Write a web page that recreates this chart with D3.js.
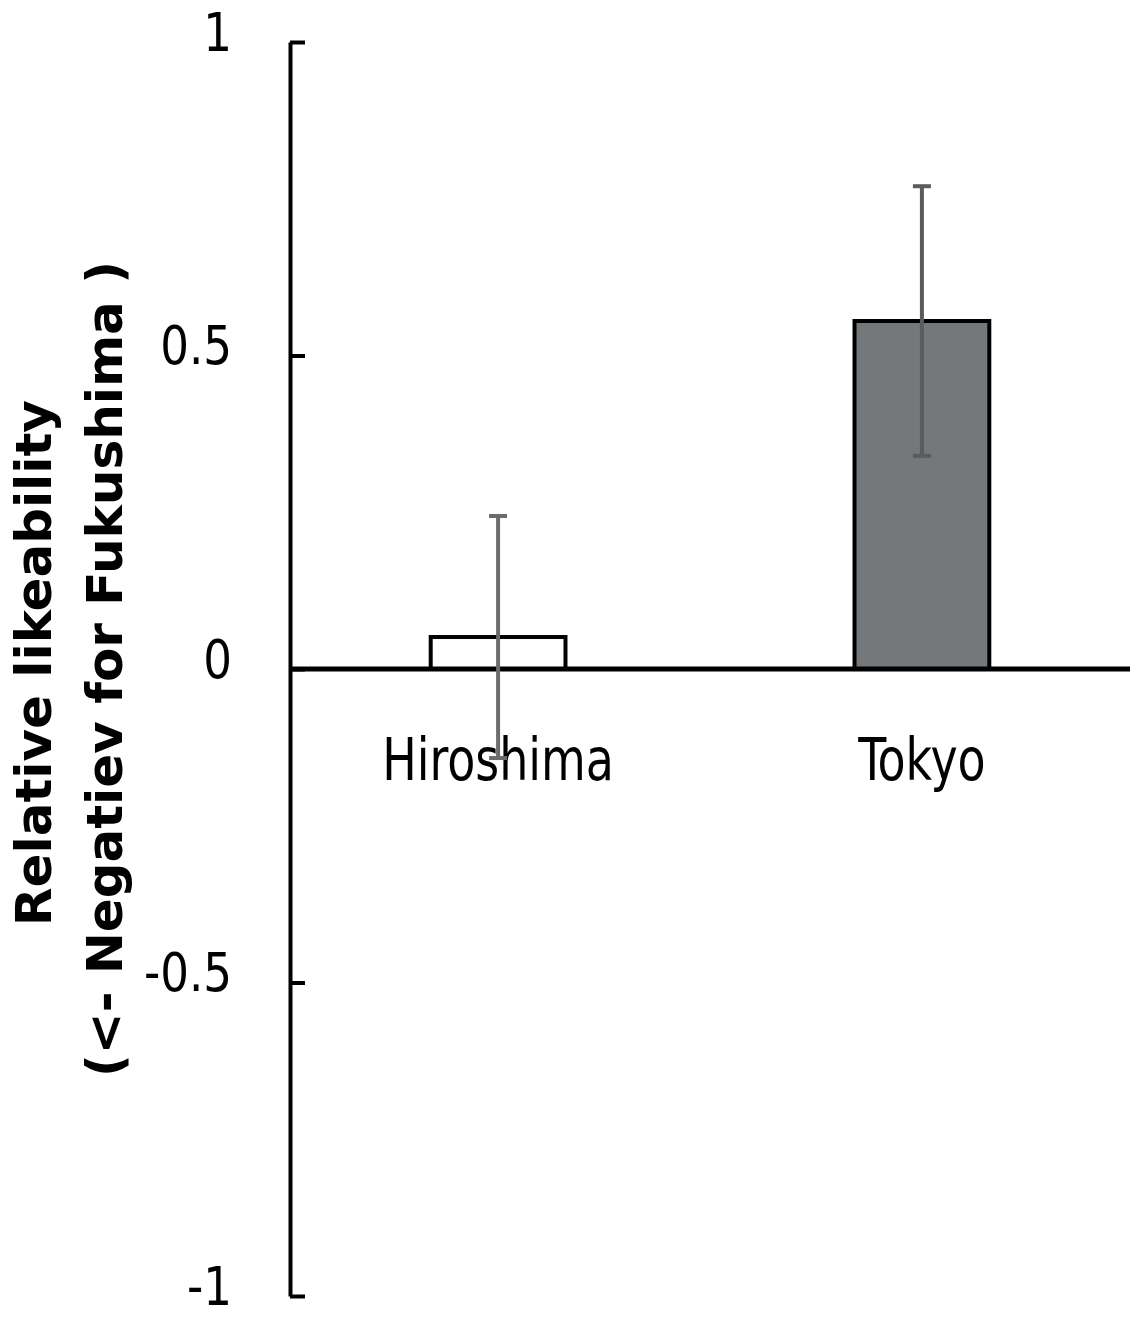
<!DOCTYPE html>
<html lang="en">
	<head>
		<meta charset="utf-8">
		<title>Relative likeability</title>
		<script type="text/javascript" src="https://d3js.org/d3.v7.min.js"></script>
		<style type="text/css">
			body { margin: 0; background: white; }
			.tick text, .cat {
				font-family: "DejaVu Sans Condensed", "Liberation Sans Narrow", sans-serif;
				fill: black;
			}
			.tick text { font-size: 54px; }
			.cat { font-size: 58px; }
			.ytitle {
				font-family: "DejaVu Sans", Verdana, sans-serif;
				font-weight: bold;
				font-size: 50px;
				fill: black;
			}
		</style>
	</head>
	<body>
		<script type="text/javascript">

			// data
			var categories = ["Hiroshima", "Tokyo"];
			var means = [0.051, 0.555];
			var errors = [0.193, 0.215];
			var tickValues = [-1, -0.5, 0, 0.5, 1];
			var tickLabels = ["-1", "-0.5", "0", "0.5", "1"];
			var barFills = ["#ffffff", "#75787a"];

			var w = 1130;
			var h = 1317;
			var squeeze = 0.88;      // narrow the condensed font a bit more
			var tickSqueeze = 0.93;

			var svg = d3.select("body")
						.append("svg")
						.attr("width", w)
						.attr("height", h);

			var y = d3.scaleLinear()
						.domain([-1, 1])
						.range([1296, 42]);

			var x = d3.scaleBand()
						.domain(categories)
						.range([290, 1130])
						.paddingInner(0.682)
						.paddingOuter(0.332);

			//Y axis, ticks pointing inward
			var yAxis = d3.axisLeft(y)
						.tickValues(tickValues)
						.tickFormat(function(d, i){ return tickLabels[i]; })
						.tickSizeInner(-15)
						.tickSizeOuter(0);

			var ag = svg.append("g")
						.attr("transform", "translate(290,0)")
						.call(yAxis);
			ag.attr("font-family", null).attr("font-size", null);
			ag.select(".domain").attr("stroke", "black").attr("stroke-width", 4);
			ag.selectAll(".tick line").attr("stroke", "black").attr("stroke-width", 4);
			ag.selectAll(".tick text")
				.attr("x", -58 / tickSqueeze)
				.attr("dy", "0.15em")
				.attr("transform", "scale(" + tickSqueeze + ",1)");

			//Category labels
			svg.selectAll("text.cat")
				.data(categories)
				.enter()
				.append("text")
				.attr("class", "cat")
				.attr("transform", function(d){
					return "translate(" + (x(d) + x.bandwidth() / 2) + "," + (y(0) + 111) + ") scale(" + squeeze + ",1)";
				})
				.attr("text-anchor", "middle")
				.text(function(d){ return d; });

			//Bars
			svg.selectAll("rect.bar")
				.data(means)
				.enter()
				.append("rect")
				.attr("class", "bar")
				.attr("x", function(d, i){ return x(categories[i]); })
				.attr("width", x.bandwidth())
				.attr("y", function(d){ return y(Math.max(0, d)); })
				.attr("height", function(d){ return Math.abs(y(d) - y(0)); })
				.attr("fill", function(d, i){ return barFills[i]; })
				.attr("stroke", "black")
				.attr("stroke-width", 4);

			//Zero line
			svg.append("line")
				.attr("x1", 290)
				.attr("x2", w)
				.attr("y1", y(0))
				.attr("y2", y(0))
				.attr("stroke", "black")
				.attr("stroke-width", 5);

			//Error bars
			var eb = svg.selectAll("g.err")
						.data(means)
						.enter()
						.append("g")
						.attr("class", "err")
						.attr("stroke", function(d, i){ return i == 0 ? "#6a6d6f" : "#585c5e"; })
						.attr("stroke-width", 4);

			eb.append("line")
				.attr("x1", function(d, i){ return x(categories[i]) + x.bandwidth() / 2; })
				.attr("x2", function(d, i){ return x(categories[i]) + x.bandwidth() / 2; })
				.attr("y1", function(d, i){ return y(d + errors[i]); })
				.attr("y2", function(d, i){ return y(d - errors[i]); });

			[1, -1].forEach(function(s){
				eb.append("line")
					.attr("x1", function(d, i){ return x(categories[i]) + x.bandwidth() / 2 - 9; })
					.attr("x2", function(d, i){ return x(categories[i]) + x.bandwidth() / 2 + 9; })
					.attr("y1", function(d, i){ return y(d + s * errors[i]); })
					.attr("y2", function(d, i){ return y(d + s * errors[i]); });
			});

			//Y title
			var tg = svg.append("g")
						.attr("transform", "translate(0,665) rotate(-90)");
			tg.append("text")
				.attr("class", "ytitle")
				.attr("x", 2)
				.attr("y", 51)
				.attr("text-anchor", "middle")
				.text("Relative likeability");
			tg.append("text")
				.attr("class", "ytitle")
				.attr("x", -4)
				.attr("y", 122)
				.attr("text-anchor", "middle")
				.text("(<- Negatiev for Fukushima )");

		</script>
	</body>
</html>
